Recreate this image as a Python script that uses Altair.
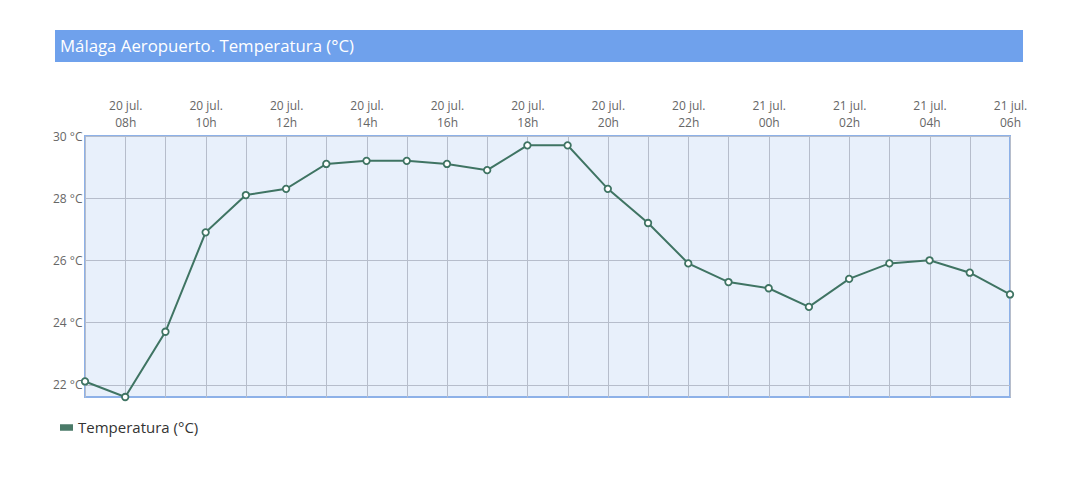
import altair as alt
import pandas as pd

dates = ["20 jul."] * 17 + ["21 jul."] * 7
hours = ["07h", "08h", "09h", "10h", "11h", "12h", "13h", "14h", "15h", "16h", "17h", "18h",
         "19h", "20h", "21h", "22h", "23h", "00h", "01h", "02h", "03h", "04h", "05h", "06h"]
temps = [22.1, 21.6, 23.7, 26.9, 28.1, 28.3, 29.1, 29.2, 29.2, 29.1, 28.9, 29.7,
         29.7, 28.3, 27.2, 25.9, 25.3, 25.1, 24.5, 25.4, 25.9, 26.0, 25.6, 24.9]
y_ticks = [22, 24, 26, 28, 30]
series = "Temperatura (°C)"
title_text = "Málaga Aeropuerto. Temperatura (°C)"

df = pd.DataFrame({
    "t": [f"{d}|{h}" for d, h in zip(dates, hours)],
    "temp": temps,
    "serie": [series] * len(temps),
})

GREEN = "#3f7463"
FONT = "Open Sans"
GRID = "#b6bdcb"

x_enc = alt.X(
    "t:O", sort=None,
    scale=alt.Scale(type="point", padding=0),
    axis=alt.Axis(
        orient="top", title=None, labelAngle=0, ticks=False, domain=False,
        labelExpr="parseInt(slice(datum.value, -3, -1)) % 2 == 0 ? split(datum.value, '|') : ''",
        labelFontSize=12, labelColor="#666666", labelFont=FONT, labelLineHeight=17,
        labelPadding=24, labelOverlap=False, labelBound=False,
        grid=True, gridColor=GRID, gridWidth=1,
    ),
)
y_enc = alt.Y(
    "temp:Q",
    scale=alt.Scale(domain=[21.6, 30], nice=False, zero=False),
    axis=alt.Axis(
        values=y_ticks, title=None, domain=False, ticks=False,
        labelExpr="datum.value + ' °C'", labelFontSize=12, labelColor="#666666",
        labelFont=FONT, labelPadding=3,
        grid=True, gridColor=GRID, gridWidth=1,
    ),
)

line = alt.Chart(df).mark_line(strokeWidth=2).encode(
    x=x_enc, y=y_enc,
    color=alt.Color(
        "serie:N", scale=alt.Scale(range=[GREEN]),
        legend=alt.Legend(
            title=None, orient="none", legendX=-26, legendY=284,
            symbolType="M-1,-0.5H1V0.5H-1Z", symbolSize=169,
            symbolFillColor="#4a7a68", symbolStrokeWidth=0,
            labelFontSize=15, labelColor="#333333", labelFont=FONT, labelOffset=4,
        ),
    ),
)

points = alt.Chart(df).mark_point(
    shape="circle", filled=True, fill="white", stroke=GREEN, strokeWidth=1.8,
    size=42, opacity=1,
).encode(x=x_enc, y=y_enc)

banner_data = alt.Data(values=[{"label": title_text}])
banner = alt.Chart(banner_data).mark_rect(color="#6fa1ec").encode(
    x=alt.value(-30), x2=alt.value(938), y=alt.value(-106), y2=alt.value(-74)
)
banner_text = alt.Chart(banner_data).mark_text(
    align="left", baseline="middle", fontSize=16.8, color="white", font=FONT
).encode(text="label:N", x=alt.value(-25), y=alt.value(-89))

chart = alt.layer(banner, banner_text, line, points).properties(
    width=925, height=261,
    autosize=alt.AutoSizeParams(type="none"),
    padding={"left": 77, "top": 128, "right": 60, "bottom": 70},
).configure_view(
    fill="#e8f0fb", stroke="#8db1e8", strokeWidth=2
)

chart.save("out.html", embed_options={"renderer": "svg", "actions": False})
